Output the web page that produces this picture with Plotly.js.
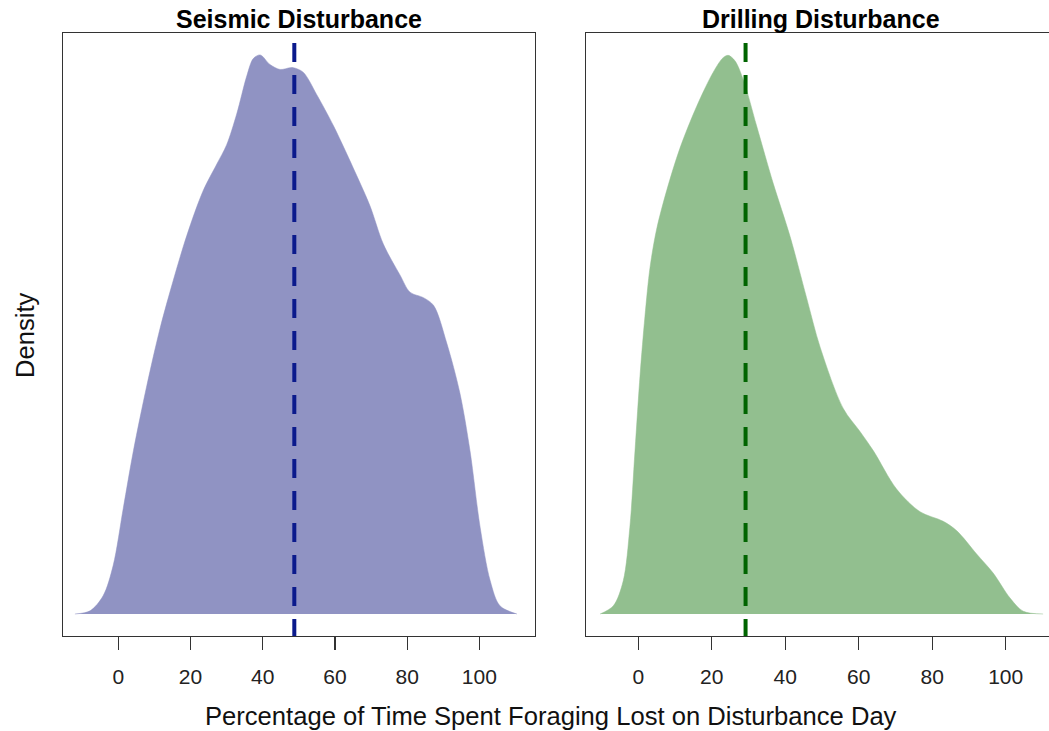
<!DOCTYPE html>
<html>
<head>
<meta charset="utf-8">
<script src="https://cdn.plot.ly/plotly-3.0.1.min.js"></script>
<style>html,body{margin:0;padding:0;background:#fff;}#chart{width:1049px;height:731px;}</style>
</head>
<body>
<div id="chart"></div>
<script>
// Seismic disturbance density curve
const seismicX = [-12.0,-7.8,-4.2,-1.4,1.4,4.2,7.9,11.6,15.2,19.0,23.5,27.3,30.0,32.8,35.6,37.4,39.3,42.0,44.8,47.6,48.5,51.2,55.0,59.6,66.0,69.7,73.4,78.0,80.8,84.5,87.3,91.0,94.6,97.4,100.2,103.0,105.7,110.4];
const seismicD = [0.00000,0.00007,0.00040,0.00107,0.00233,0.00359,0.00502,0.00629,0.00733,0.00833,0.00931,0.00990,0.01032,0.01100,0.01184,0.01222,0.01230,0.01209,0.01198,0.01202,0.01202,0.01192,0.01142,0.01074,0.00965,0.00898,0.00814,0.00746,0.00708,0.00696,0.00679,0.00595,0.00486,0.00359,0.00191,0.00073,0.00018,0.00000];
const seismicMean = 48.75;

// Drilling disturbance density curve
const drillingX = [-10.4,-6.8,-4.1,-2.3,-0.9,0.5,1.8,3.2,5.0,7.7,11.3,15.9,20.4,23.1,24.5,26.3,28.6,32.2,36.7,41.3,45.8,49.5,55.8,60.3,64.0,70.3,76.7,83.0,86.7,92.1,96.6,101.2,104.8,110.2];
const drillingD = [0.00000,0.00018,0.00073,0.00191,0.00359,0.00528,0.00654,0.00763,0.00847,0.00931,0.01024,0.01117,0.01192,0.01224,0.01229,0.01217,0.01175,0.01074,0.00948,0.00831,0.00696,0.00587,0.00452,0.00402,0.00359,0.00275,0.00225,0.00204,0.00183,0.00132,0.00090,0.00035,0.00006,0.00000];
const drillingMean = 29.2;

const tickVals = [0,20,40,60,80,100];
const tickText = ["0","20","40","60","80","100"];
const panelTitles = ["Seismic Disturbance","Drilling Disturbance"];
const xTitle = "Percentage of Time Spent Foraging Lost on Disturbance Day";
const yTitle = "Density";

const yRange = [-0.000484, 0.012782];
const meanLineTop = 0.01256;

const W = 1049, H = 731;
const font = "'Liberation Sans', Arial, Helvetica, sans-serif";

const traces = [
  {x: seismicX, y: seismicD, type: 'scatter', mode: 'lines', fill: 'tozeroy',
   fillcolor: '#9093C3', line: {color: '#9093C3', width: 0.5, shape: 'spline', smoothing: 0.9},
   xaxis: 'x', yaxis: 'y', hoverinfo: 'skip', showlegend: false},
  {x: [seismicMean, seismicMean], y: [meanLineTop, yRange[0]], type: 'scatter', mode: 'lines',
   line: {color: '#0b1a8c', width: 4, dash: '19px,13px'}, xaxis: 'x', yaxis: 'y', showlegend: false, hoverinfo: 'skip'},
  {x: drillingX, y: drillingD, type: 'scatter', mode: 'lines', fill: 'tozeroy',
   fillcolor: '#92BF8F', line: {color: '#92BF8F', width: 0.5, shape: 'spline', smoothing: 0.9},
   xaxis: 'x2', yaxis: 'y2', hoverinfo: 'skip', showlegend: false},
  {x: [drillingMean, drillingMean], y: [meanLineTop, yRange[0]], type: 'scatter', mode: 'lines',
   line: {color: '#006400', width: 4, dash: '19px,13px'}, xaxis: 'x2', yaxis: 'y2', showlegend: false, hoverinfo: 'skip'}
];

function xa(domain, range) {
  return {domain: domain, range: range, showgrid: false, zeroline: false,
    showline: true, mirror: true, linecolor: '#333', linewidth: 1.3,
    ticks: 'outside', ticklen: 13, tickwidth: 1.3, tickcolor: '#333',
    tickmode: 'array', tickvals: tickVals, ticktext: tickText,
    ticklabelstandoff: 8,
    tickfont: {family: font, size: 21, color: '#222'}, fixedrange: true};
}
function ya(domain, mirror) {
  return {domain: domain, range: yRange, showgrid: false, zeroline: false,
    showline: true, mirror: mirror, linecolor: '#333', linewidth: 1.3,
    ticks: '', showticklabels: false, fixedrange: true};
}

const yDom = [(H - 636) / H, (H - 33) / H];

const layout = {
  width: W, height: H,
  margin: {l: 0, r: 0, t: 0, b: 0},
  paper_bgcolor: '#fff', plot_bgcolor: '#fff',
  showlegend: false,
  xaxis: xa([63 / W, 535 / W], [-15.3, 115.4]),
  yaxis: ya(yDom, true),
  xaxis2: Object.assign(xa([586 / W, 1], [-14.24, 111.8]), {anchor: 'y2'}),
  yaxis2: Object.assign(ya(yDom, false), {anchor: 'x2'}),
  annotations: [
    {text: '<b>' + panelTitles[0] + '</b>', xref: 'paper', yref: 'paper', x: 299 / W, y: (H - 19) / H,
     xanchor: 'center', yanchor: 'middle', showarrow: false, font: {family: font, size: 25, color: '#000'}},
    {text: '<b>' + panelTitles[1] + '</b>', xref: 'paper', yref: 'paper', x: 821 / W, y: (H - 19) / H,
     xanchor: 'center', yanchor: 'middle', showarrow: false, font: {family: font, size: 25, color: '#000'}},
    {text: xTitle, xref: 'paper', yref: 'paper', x: 551 / W, y: (H - 716) / H,
     xanchor: 'center', yanchor: 'middle', showarrow: false, font: {family: font, size: 25.6, color: '#111'}},
    {text: yTitle, xref: 'paper', yref: 'paper', x: 25 / W, y: (H - 335) / H, textangle: -90,
     xanchor: 'center', yanchor: 'middle', showarrow: false, font: {family: font, size: 25.6, color: '#111'}}
  ]
};

Plotly.newPlot('chart', traces, layout, {displayModeBar: false, staticPlot: true});
</script>
</body>
</html>
